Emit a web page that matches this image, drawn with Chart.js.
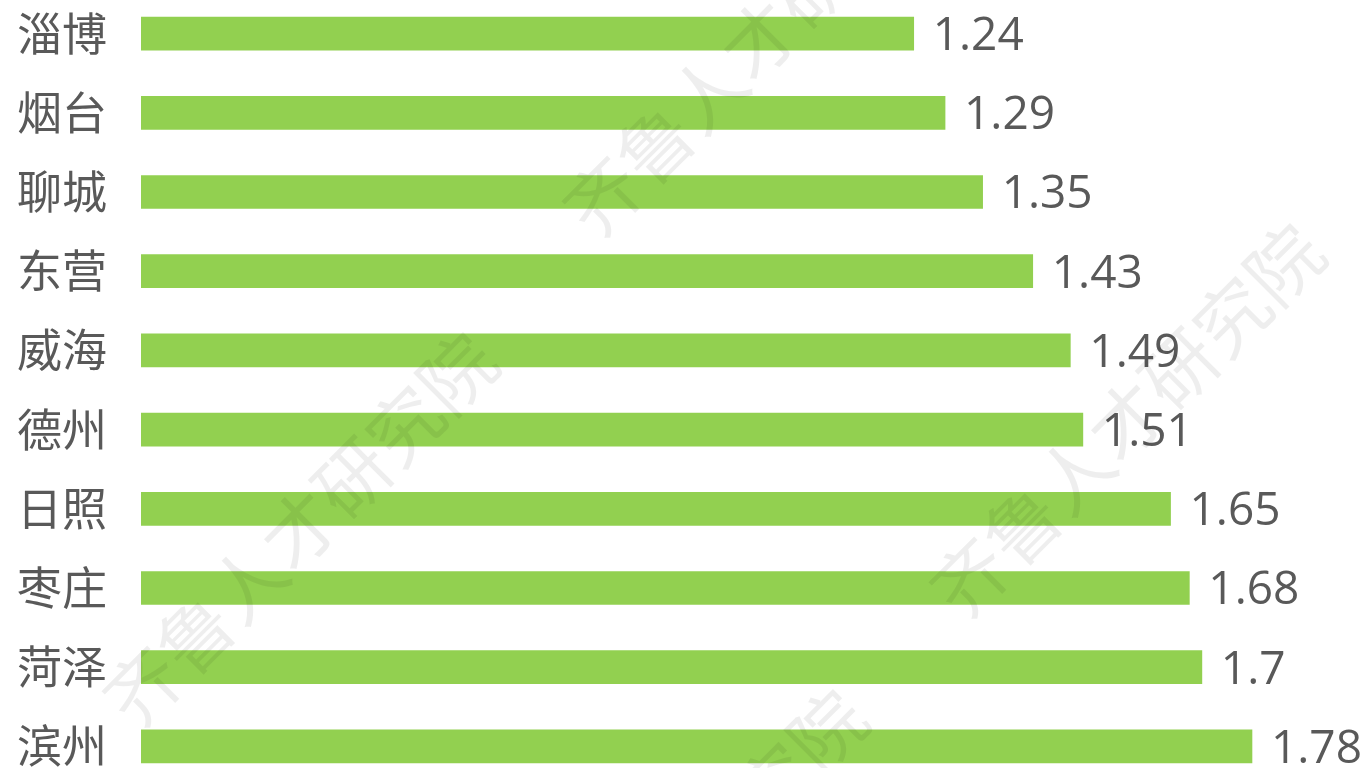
<!DOCTYPE html>
<html>
<head>
<meta charset="utf-8">
<script src="https://cdn.jsdelivr.net/npm/chart.js@4"></script>
<style>
  html, body { margin: 0; padding: 0; background: #fff; overflow: hidden; }
  body { width: 1371px; height: 768px; position: relative; }
  #chart { position: absolute; left: 0; top: -6px; }
</style>
</head>
<body>
<canvas id="chart" width="1371" height="792"></canvas>
<script>
"use strict"

const cities = ["淄博", "烟台", "聊城", "东营", "威海", "德州", "日照", "枣庄", "菏泽", "滨州"];
const values = [1.24, 1.29, 1.35, 1.43, 1.49, 1.51, 1.65, 1.68, 1.7, 1.78];

const watermarkText = "齐鲁人才研究院";
const watermarkCenters = [[300, 536], [760, 46], [1127, 427], [670, 893]];

// value labels at the end of each bar
const valueLabels = {
  id: "valueLabels",
  afterDatasetsDraw(chart) {
    const ctx = chart.ctx;
    const meta = chart.getDatasetMeta(0);
    const size = 46;
    ctx.save();
    ctx.font = size + "px 'Open Sans', sans-serif";
    ctx.fillStyle = "#595959";
    ctx.textAlign = "left";
    ctx.textBaseline = "alphabetic";
    meta.data.forEach((bar, i) => {
      ctx.fillText(String(values[i]), bar.x + 19, bar.y + size * 0.357);
    });
    ctx.restore();
  }
};

// diagonal watermark
const watermark = {
  id: "watermark",
  afterDraw(chart) {
    const ctx = chart.ctx;
    ctx.save();
    ctx.font = "74px 'Noto Sans CJK SC', sans-serif";
    ctx.fillStyle = "rgba(0, 0, 0, 0.065)";
    ctx.textAlign = "center";
    ctx.textBaseline = "middle";
    watermarkCenters.forEach(([x, y]) => {
      ctx.save();
      ctx.translate(x, y);
      ctx.rotate(-Math.PI / 4);
      ctx.fillText(watermarkText, 0, 0);
      ctx.restore();
    });
    ctx.restore();
  }
};

new Chart(document.getElementById("chart"), {
  type: "bar",
  data: {
    labels: cities,
    datasets: [
      {
        data: values,
        backgroundColor: "#92D050",
        barThickness: 33,
      },
    ],
  },
  options: {
    indexAxis: "y",
    responsive: false,
    animation: false,
    devicePixelRatio: 1,
    layout: { padding: 0 },
    plugins: {
      legend: { display: false },
      tooltip: { enabled: false },
    },
    scales: {
      x: {
        display: false,
        min: 0,
        max: 1.97,
      },
      y: {
        grid: { display: false },
        // white edge so the bars start a few pixels right of zero, as in the original
        border: { display: true, color: "#ffffff", width: 8, z: 1 },
        ticks: {
          color: "#595959",
          padding: 22,
          font: { size: 45, family: "'Noto Sans CJK SC', sans-serif" },
        },
        afterFit(scale) {
          scale.width = 137;
          scale.paddingTop = 0;
          scale.paddingBottom = 0;
        },
      },
    },
  },
  plugins: [valueLabels, watermark],
});
</script>
</body>
</html>
